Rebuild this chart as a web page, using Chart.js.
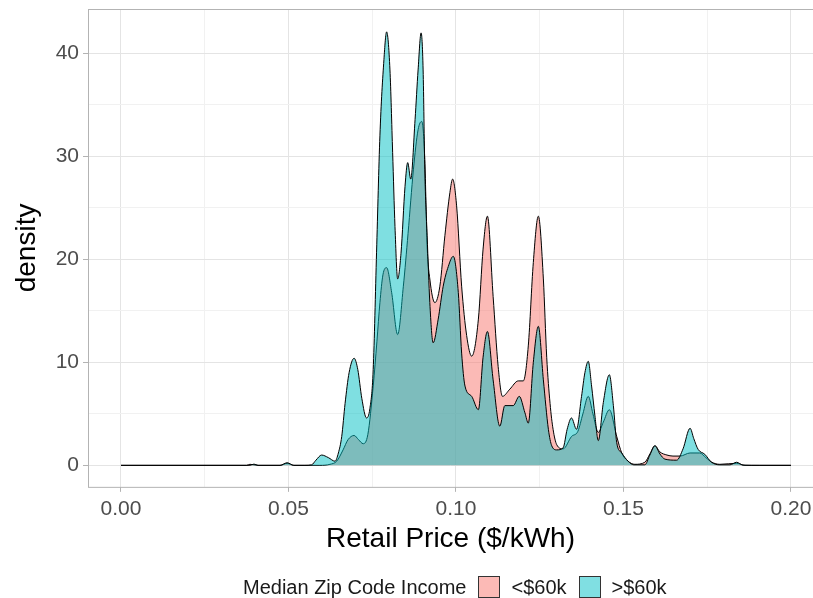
<!DOCTYPE html>
<html>
<head>
<meta charset="utf-8">
<script src="https://cdn.jsdelivr.net/npm/chart.js@4"></script>
<style>
  html, body { margin: 0; padding: 0; background: #fff; }
  #wrap { position: relative; width: 813px; height: 598px; }
  #legend { position: absolute; left: 243px; top: 576px; height: 22px; display: flex; align-items: center;
            font-family: "Liberation Sans", Arial, sans-serif; font-size: 20px; color: #1a1a1a; }
  #legend .sw { width: 20px; height: 20px; border: 1px solid #333; margin: 0 11px 0 12px; }
</style>
</head>
<body>
<div id="wrap">
  <canvas id="chart" width="813" height="598"></canvas>
  <div id="legend">
    <span>Median Zip Code Income</span>
    <span class="sw" style="background:#FCBAB6"></span><span>&lt;$60k</span>
    <span class="sw" style="background:#80DFE2"></span><span>&gt;$60k</span>
  </div>
</div>
<script>
// <$60k
const lowPrice = [0, 0.0375, 0.0385, 0.0409, 0.0475, 0.0496, 0.0516, 0.0594, 0.0624, 0.0644, 0.0663, 0.0678, 0.0696,
  0.0709, 0.0723, 0.0737, 0.0753, 0.0764, 0.0773, 0.0782, 0.0793, 0.0808, 0.0826, 0.0843, 0.0857, 0.0873,
  0.0887, 0.0898, 0.0907, 0.0914, 0.0922, 0.0937, 0.0952, 0.0967, 0.0982, 0.0990, 0.1002, 0.1017, 0.1032,
  0.1047, 0.1067, 0.1081, 0.1094, 0.1111, 0.1126, 0.1139, 0.1161, 0.1186, 0.1201, 0.1216, 0.1231, 0.1246,
  0.1261, 0.1271, 0.1281, 0.1290, 0.1301, 0.1320, 0.1345, 0.1364, 0.1379, 0.1395, 0.1409, 0.1425, 0.1440,
  0.1458, 0.1480, 0.1495, 0.1514, 0.1534, 0.1564, 0.1579, 0.1594, 0.1609, 0.1630, 0.1648, 0.1669, 0.1699,
  0.1728, 0.1746, 0.1764, 0.1788, 0.1838, 0.1863, 0.2];
const lowDensity = [0, 0, 0.1, 0, 0, 0.2, 0, 0, 0.1, 0.4, 1.5, 2.5, 2.9,
  2.5, 2.1, 3.0, 7.7, 12.0, 15.8, 18.5, 19.2, 16.8, 12.7, 17.4, 22.5, 28.7,
  32.6, 33.4, 29.7, 21.3, 18.1, 15.8, 17.4, 22.3, 26.5, 27.8, 25.2, 17.4, 12.6,
  10.6, 14.2, 21.0, 24.2, 16.4, 9.6, 6.7, 7.4, 8.2, 8.2, 11.6, 19.7, 24.2,
  18.1, 10.5, 6.0, 3.5, 2.0, 1.6, 2.8, 3.3, 5.0, 6.7, 5.0, 3.2, 4.2,
  5.4, 2.8, 1.2, 0.4, 0.1, 0.3, 1.1, 1.9, 1.3, 1.0, 0.9, 0.9, 1.2,
  1.2, 0.75, 0.3, 0.1, 0.2, 0, 0];

// >$60k
const highPrice = [0, 0.0385, 0.0397, 0.0409, 0.0475, 0.0496, 0.0516, 0.0549, 0.0569, 0.0582, 0.0599, 0.0619,
  0.0639, 0.0649, 0.0659, 0.0669, 0.0681, 0.0696, 0.0707, 0.0719, 0.0733, 0.0743, 0.0753, 0.0763, 0.0773,
  0.0785, 0.0793, 0.0803, 0.0811, 0.0818, 0.0826, 0.0836, 0.0848, 0.0856, 0.0865, 0.0878, 0.0887, 0.0896,
  0.0902, 0.0907, 0.0914, 0.0922, 0.0932, 0.0947, 0.0962, 0.0977, 0.0992, 0.1007, 0.1017, 0.1027, 0.1047,
  0.1067, 0.1081, 0.1094, 0.1111, 0.1131, 0.1146, 0.1171, 0.1189, 0.1206, 0.1216, 0.1231, 0.1246, 0.1261,
  0.1276, 0.1286, 0.1301, 0.1320, 0.1332, 0.1345, 0.1360, 0.1375, 0.1385, 0.1395, 0.1405, 0.1415, 0.1425,
  0.1440, 0.1458, 0.1470, 0.1480, 0.1495, 0.1514, 0.1531, 0.1564, 0.1579, 0.1594, 0.1609, 0.1624, 0.1659,
  0.1678, 0.1699, 0.1710, 0.1723, 0.1743, 0.1763, 0.1788, 0.1818, 0.1838, 0.1857, 0.1907, 0.2];
const highDensity = [0, 0, 0.12, 0, 0, 0.25, 0, 0, 0.05, 0.5, 1.0, 0.75,
  0.4, 1.2, 2.8, 6.0, 9.0, 10.4, 9.3, 6.5, 4.6, 5.5, 9.3, 20.7, 32.0,
  39.4, 42.1, 38.4, 30.4, 23.2, 18.1, 20.6, 27.1, 29.4, 27.8, 33.6, 38.4, 42.0,
  38.4, 28.7, 22.3, 15.8, 11.9, 14.2, 17.4, 19.3, 20.3, 16.8, 10.9, 7.7, 6.7,
  5.4, 10.5, 13.0, 8.3, 3.8, 5.8, 5.8, 6.7, 5.1, 4.1, 10.0, 13.5, 8.3,
  3.5, 1.9, 1.5, 1.7, 3.5, 4.6, 3.5, 6.7, 9.0, 10.1, 7.7, 4.8, 2.4,
  6.1, 8.8, 5.8, 2.2, 1.2, 0.4, 0.05, 0.05, 1.0, 1.9, 1.1, 0.6, 0.5,
  1.6, 3.6, 2.6, 1.55, 1.07, 0.3, 0.05, 0.05, 0.3, 0.02, 0, 0];

const xTicks = [0, 0.05, 0.10, 0.15, 0.20];
const yTicks = [0, 10, 20, 30, 40];

const toPoints = (xs, ys) => xs.map((x, i) => ({ x: x, y: ys[i] }));
const isMajor = (v, step) => Math.abs(Math.round(v / step) * step - v) < 1e-9;

const panelBorder = {
  id: 'panelBorder',
  afterDatasetsDraw(chart) {
    const { ctx, chartArea: a } = chart;
    ctx.save();
    ctx.strokeStyle = '#B3B3B3';
    ctx.lineWidth = 1;
    ctx.strokeRect(a.left + 0.5, a.top + 0.5, a.right - a.left + 5, a.bottom - a.top);
    ctx.restore();
  }
};

const font = "'Liberation Sans', Arial, sans-serif";

new Chart(document.getElementById('chart'), {
  type: 'line',
  data: {
    datasets: [
      {
        label: '<$60k',
        data: toPoints(lowPrice, lowDensity),
        backgroundColor: 'rgba(248,118,109,0.5)',
        borderColor: '#000',
        borderWidth: 1,
        fill: 'origin',
        pointRadius: 0,
        cubicInterpolationMode: 'monotone',
        order: 2
      },
      {
        label: '>$60k',
        data: toPoints(highPrice, highDensity),
        backgroundColor: 'rgba(0,191,196,0.5)',
        borderColor: '#000',
        borderWidth: 1,
        fill: 'origin',
        pointRadius: 0,
        cubicInterpolationMode: 'monotone',
        order: 1
      }
    ]
  },
  options: {
    responsive: false,
    animation: false,
    layout: { padding: { top: 9, left: 0, right: 0, bottom: 44.5 } },
    plugins: { legend: { display: false }, tooltip: { enabled: false } },
    scales: {
      x: {
        type: 'linear',
        min: -0.00985,
        max: 0.2066,
        border: { display: false },
        afterFit: s => { s.paddingLeft = 0; s.paddingRight = 0; },
        grid: {
          color: c => isMajor(c.tick.value, 0.05) ? '#E4E4E4' : '#F1F1F1',
          tickColor: c => isMajor(c.tick.value, 0.05) ? '#B3B3B3' : 'rgba(0,0,0,0)',
          tickLength: 5
        },
        ticks: {
          stepSize: 0.025,
          includeBounds: false,
          autoSkip: false,
          maxRotation: 0,
          padding: 5.5,
          color: '#4D4D4D',
          font: { family: font, size: 21, lineHeight: 1.15 },
          callback: v => xTicks.some(t => Math.abs(t - v) < 1e-9) ? v.toFixed(2) : ''
        },
        title: {
          display: true,
          text: 'Retail Price ($/kWh)',
          color: '#000',
          font: { family: font, size: 28, lineHeight: 1 },
          padding: { top: -1.5, bottom: 0 }
        }
      },
      y: {
        type: 'linear',
        min: -2.09,
        max: 44.32,
        border: { display: false },
        afterFit: s => { s.width = 88; s.paddingTop = 0; s.paddingBottom = 0; },
        grid: {
          color: c => isMajor(c.tick.value, 10) ? '#E4E4E4' : '#F1F1F1',
          tickColor: c => isMajor(c.tick.value, 10) ? '#B3B3B3' : 'rgba(0,0,0,0)',
          tickLength: 5
        },
        ticks: {
          stepSize: 5,
          includeBounds: false,
          autoSkip: false,
          padding: 4,
          color: '#4D4D4D',
          font: { family: font, size: 21 },
          callback: v => yTicks.includes(v) ? String(v) : ''
        },
        title: {
          display: true,
          text: 'density',
          color: '#000',
          font: { family: font, size: 28, lineHeight: 1 },
          padding: { top: 13, bottom: 0 }
        }
      }
    }
  },
  plugins: [panelBorder]
});
</script>
</body>
</html>
